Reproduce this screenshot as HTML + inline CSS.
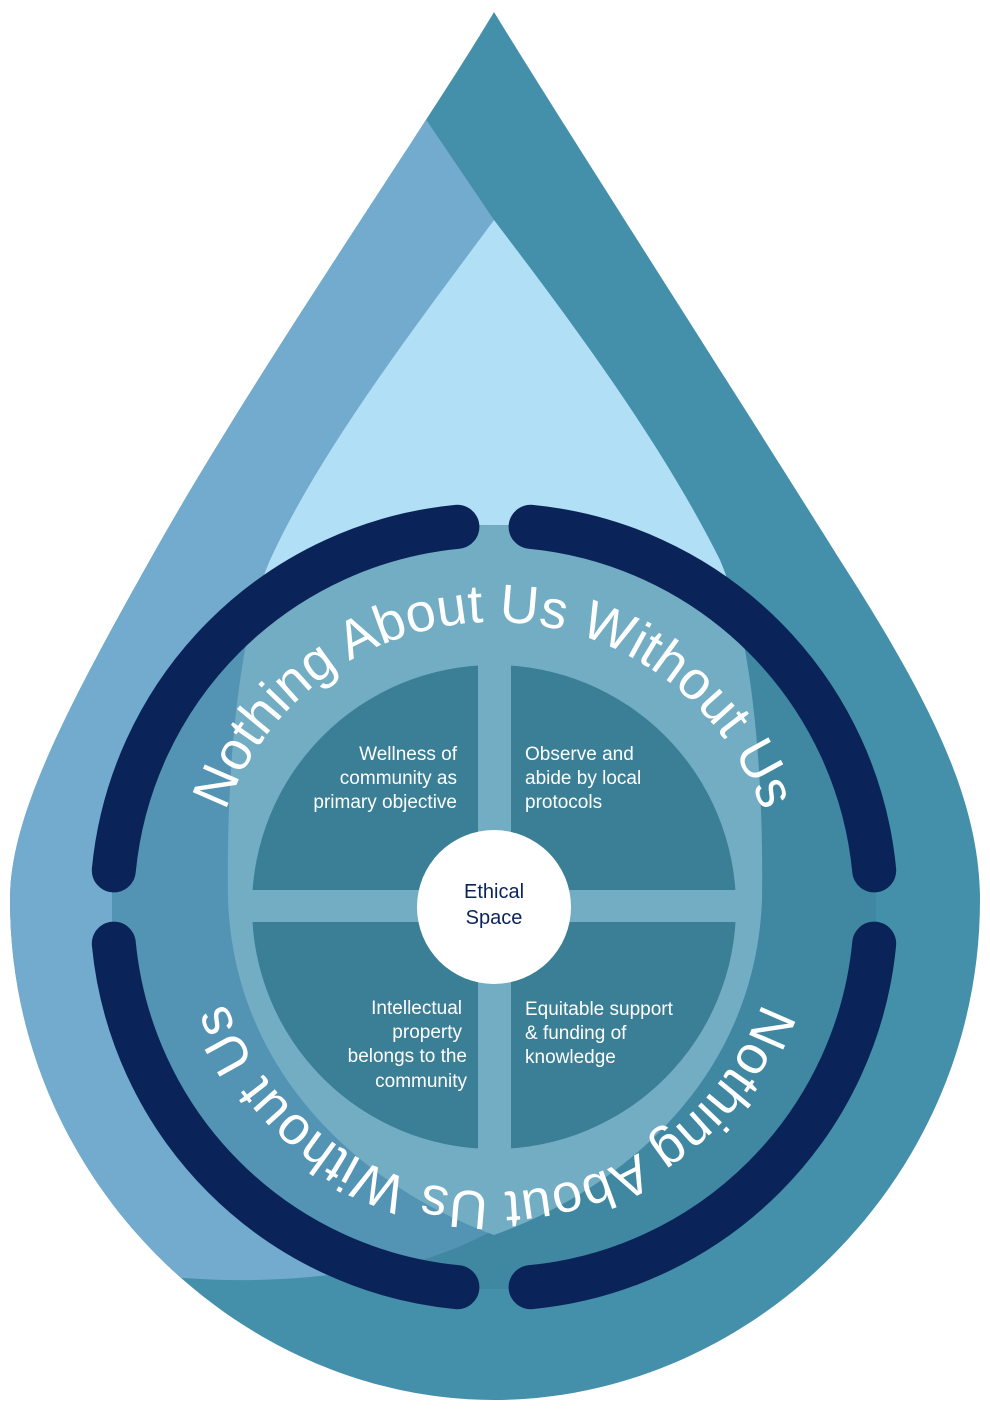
<!DOCTYPE html>
<html><head><meta charset="utf-8"><style>
html,body{margin:0;padding:0;background:#fff;}
svg{display:block;}
</style></head><body>
<svg width="990" height="1409" viewBox="0 0 990 1409" xmlns="http://www.w3.org/2000/svg">
<defs>
<clipPath id="cc"><circle cx="494" cy="907" r="382"/></clipPath>
<clipPath id="dc"><path d="M494,12 C430,120 250,380 150,560 C60,720 10,820 10,900 C10,1180 240,1400 494,1400 C750,1400 980,1180 980,900 C980,800 930,700 840,560 C740,400 560,120 494,12 Z"/></clipPath>
<path id="tp" d="M209,907 A285,285 0 1 1 779,907"/>
<path id="bp" d="M779,907 A285,285 0 1 1 209,907"/>
</defs>
<!-- outer drop -->
<path d="M494,12 C430,120 250,380 150,560 C60,720 10,820 10,900 C10,1180 240,1400 494,1400 C750,1400 980,1180 980,900 C980,800 930,700 840,560 C740,400 560,120 494,12 Z" fill="#4490aa"/>
<!-- left light band -->
<g clip-path="url(#dc)">
<path d="M425,118 L494,220 C420,320 320,450 270,560 L300,1000 L480,1240 C380,1275 280,1285 185,1278 L0,1300 L0,118 Z" fill="#73abcf"/>
</g>
<!-- inner light drop -->
<path d="M494,220 C420,320 320,450 270,560 C240,630 226,760 228,900 C235,1080 370,1190 494,1235 C620,1190 755,1080 762,900 C764,760 750,630 720,560 C660,440 570,320 494,220 Z" fill="#b1dff5"/>
<!-- ring interior -->
<g clip-path="url(#cc)">
<rect x="100" y="500" width="800" height="820" fill="#4087a1"/>
<path d="M100,500 L494,500 L494,1230 C420,1270 300,1300 100,1300 Z" fill="#5393b3"/>
<path d="M494,220 C420,320 320,450 270,560 C240,630 226,760 228,900 C235,1080 370,1190 494,1235 C620,1190 755,1080 762,900 C764,760 750,630 720,560 C660,440 570,320 494,220 Z" fill="#72adc4"/>
</g>
<!-- quadrants -->
<circle cx="494" cy="907" r="242" fill="#3b7f96"/>
<rect x="478" y="640" width="33" height="540" fill="#72adc4"/>
<rect x="240" y="890" width="510" height="32" fill="#72adc4"/>
<circle cx="494" cy="907" r="77" fill="#fff"/>
<text x="494" y="898" text-anchor="middle" font-family="Liberation Sans, sans-serif" font-size="20" fill="#0a2459">Ethical</text>
<text x="494" y="924" text-anchor="middle" font-family="Liberation Sans, sans-serif" font-size="20" fill="#0a2459">Space</text>
<!-- ring -->
<g fill="none" stroke="#0a2459" stroke-width="44" stroke-linecap="round">
<path d="M113.8,870.4 A382,382 0 0 1 457.4,526.8"/>
<path d="M530.6,526.8 A382,382 0 0 1 874.2,870.4"/>
<path d="M874.2,943.6 A382,382 0 0 1 530.6,1287.2"/>
<path d="M457.4,1287.2 A382,382 0 0 1 113.8,943.6"/>
</g>
<!-- curved text -->
<g font-family="Liberation Sans, sans-serif" font-size="54" fill="#fff">
<text><textPath href="#tp" startOffset="50%" text-anchor="middle">Nothing About Us Without Us</textPath></text>
<text><textPath href="#bp" startOffset="50%" text-anchor="middle">Nothing About Us Without Us</textPath></text>
</g>
<!-- quadrant text -->
<g font-family="Liberation Sans, sans-serif" font-size="19" fill="#fff">
<text x="457" y="760" text-anchor="end">Wellness of</text>
<text x="457" y="784" text-anchor="end">community as</text>
<text x="457" y="808" text-anchor="end">primary objective</text>
<text x="525" y="760">Observe and</text>
<text x="525" y="784">abide by local</text>
<text x="525" y="808">protocols</text>
<text x="462" y="1014" text-anchor="end">Intellectual</text>
<text x="462" y="1038" text-anchor="end">property</text>
<text x="467" y="1062" text-anchor="end">belongs to the</text>
<text x="467" y="1087" text-anchor="end">community</text>
<text x="525" y="1015">Equitable support</text>
<text x="525" y="1039">&amp; funding of</text>
<text x="525" y="1063">knowledge</text>
</g>
</svg>
</body></html>
